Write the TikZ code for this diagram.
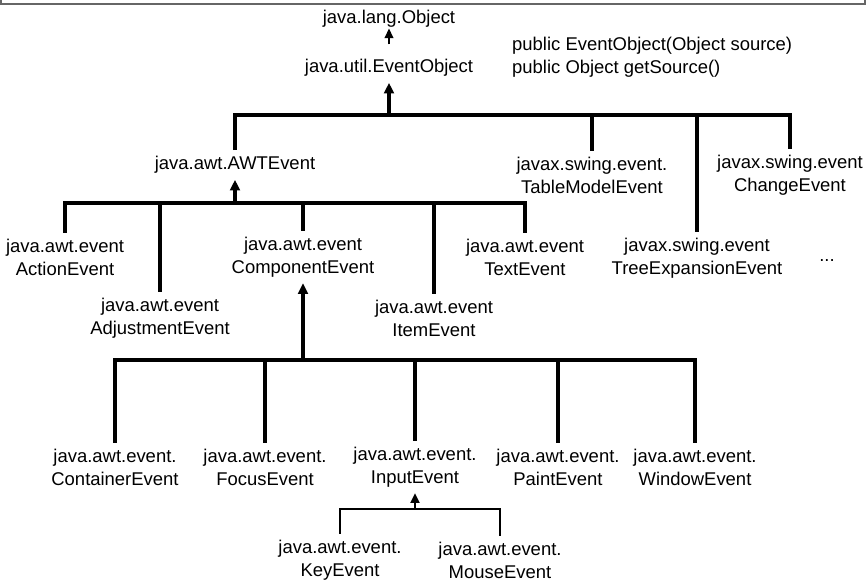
\documentclass[tikz,border=0pt]{standalone}
\usepackage{fontspec}
\setmainfont{Liberation Sans}
\usetikzlibrary{arrows.meta}

\begin{document}
\begin{tikzpicture}[x=0.02cm,y=-0.02cm,
  cls/.style={align=center,font=\fontsize{10.5}{13}\selectfont},
  bar/.style={line width=2pt},
  thinbar/.style={line width=1.5pt},
  inherit/.style={bar,-{Triangle[width=5.5pt,length=6pt]}},
  thininherit/.style={thinbar,-{Triangle[width=5pt,length=5.5pt]}}]
  \useasboundingbox (0,0) rectangle (867,582);
  % Frame
  \draw [gray!80!black,line width=1.2pt] (0.5,0) -- (0.5,4) -- (865,4) -- (865,0);
  % Root
  \node [cls] (obj) at (389,19) {java.lang.Object};
  \node [cls] (evo) at (389,68) {java.util.EventObject};
  \node [cls,align=left,anchor=west] (meth) at (506,57)
    {public EventObject(Object source)\\public Object getSource()};
  \draw [thininherit,line width=1.1pt,shorten <=5pt,shorten >=-3pt] (evo.north) -- (obj.south);
  % First level
  \node [cls] (awt) at (235,165) {java.awt.AWTEvent};
  \node [cls] (tbl) at (592,175) {javax.swing.event.\\TableModelEvent};
  \node [cls] (chg) at (790,175) {javax.swing.event\\ChangeEvent};
  \node [cls] (tree) at (697,258) {javax.swing.event\\TreeExpansionEvent};
  \node [cls] (more) at (827,261) {...};
  \coordinate (b1) at (389,115);
  \draw [bar] (awt.north) |- (b1) -| (chg.north);
  \draw [bar] (tbl.north) -- (tbl.north |- b1);
  \draw [bar] (tree.north) -- (tree.north |- b1);
  \draw [inherit] (b1) -- (evo.south);
  % AWT events
  \node [cls] (act) at (65,257) {java.awt.event\\ActionEvent};
  \node [cls] (adj) at (160,318) {java.awt.event\\AdjustmentEvent};
  \node [cls] (cmp) at (303,257) {java.awt.event\\ComponentEvent};
  \node [cls] (itm) at (434,318) {java.awt.event\\ItemEvent};
  \node [cls] (txt) at (525,257) {java.awt.event\\TextEvent};
  \coordinate (b2) at (235,203);
  \draw [bar] (act.north) |- (b2) -| (txt.north);
  \draw [bar] (adj.north) -- (adj.north |- b2);
  \draw [bar] (cmp.north) -- (cmp.north |- b2);
  \draw [bar] (itm.north) -- (itm.north |- b2);
  \draw [inherit] (b2) -- (awt.south);
  % Component events
  \node [cls] (con) at (115,467) {java.awt.event.\\ContainerEvent};
  \node [cls] (foc) at (265,467) {java.awt.event.\\FocusEvent};
  \node [cls] (inp) at (415,467) {java.awt.event.\\InputEvent};
  \node [cls] (pnt) at (558,467) {java.awt.event.\\PaintEvent};
  \node [cls] (win) at (695,467) {java.awt.event.\\WindowEvent};
  \coordinate (b3) at (303,360);
  \draw [bar] (con.north) |- (b3) -| (win.north);
  \draw [bar] (foc.north) -- (foc.north |- b3);
  \draw [bar] (inp.north) -- (inp.north |- b3);
  \draw [bar] (pnt.north) -- (pnt.north |- b3);
  \draw [inherit] (b3) -- (cmp.south);
  % Input events
  \node [cls] (key) at (340,560) {java.awt.event.\\KeyEvent};
  \node [cls] (mou) at (500,560) {java.awt.event.\\MouseEvent};
  \coordinate (b4) at (415,509);
  \draw [thinbar] (key.north) |- (b4) -| (mou.north);
  \draw [thininherit] (b4) -- (inp.south);
\end{tikzpicture}
\end{document}
